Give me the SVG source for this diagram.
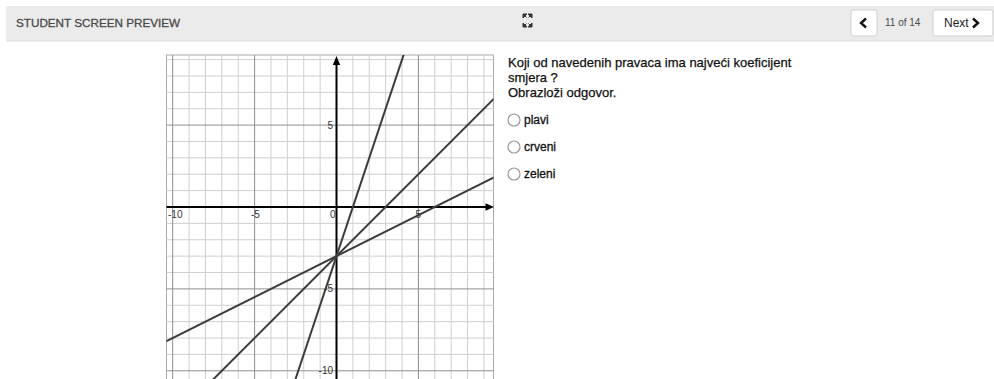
<svg xmlns="http://www.w3.org/2000/svg" width="994" height="379" viewBox="0 0 994 379">
<style>
.hdr{font-family:"Liberation Sans",Arial,sans-serif;fill:#4a4a4a}
.q{font-family:"Liberation Sans",Arial,sans-serif;font-size:13px;fill:#111;stroke:#111;stroke-width:0.25}
.opt{font-family:"Liberation Sans",Arial,sans-serif;font-size:12px;fill:#111;stroke:#111;stroke-width:0.3}
.lbl{font-family:"Liberation Sans",Arial,sans-serif;font-size:10px;fill:#333}
.btn{fill:#fff;stroke:#cfcfcf;stroke-width:1}
.radio{fill:#fff;stroke:#999;stroke-width:1.2}
.minor{stroke:#cfcfcf;stroke-width:1;fill:none}
.major{stroke:#8f8f8f;stroke-width:1;fill:none}
.gline{stroke:#3c3c3c;stroke-width:2;fill:none}
</style>
<defs>
<clipPath id="gclip"><rect x="166.5" y="55" width="327" height="330"/></clipPath>
</defs>
<rect width="994" height="379" fill="#fff"/>
<g id="header">
<rect x="6" y="6" width="988" height="35" fill="#ebebeb"/>
<line x1="6" y1="41" x2="994" y2="41" stroke="#dcdcdc"/>
<text class="hdr" x="16" y="27" font-size="11.7" stroke="#4a4a4a" stroke-width="0.3">STUDENT SCREEN PREVIEW</text>
<g id="expand" fill="#333" stroke="#333" stroke-width="1">
<path d="M523 14 L527 14 L523 18 Z"/><path d="M523.5 14.5 L526.5 17.5"/>
<path d="M532 14 L528 14 L532 18 Z"/><path d="M531.5 14.5 L528.5 17.5"/>
<path d="M523 27 L527 27 L523 23 Z"/><path d="M523.5 26.5 L526.5 23.5"/>
<path d="M532 27 L528 27 L532 23 Z"/><path d="M531.5 26.5 L528.5 23.5"/>
</g>
<g id="prev">
<rect class="btn" x="851" y="10" width="26" height="26" rx="2"/>
<polyline points="866,18.5 861,23 866,27.5" fill="none" stroke="#111" stroke-width="2.4"/>
</g>
<text class="hdr" x="885" y="26" font-size="10">11 of 14</text>
<g id="next">
<rect class="btn" x="933" y="10" width="60" height="26" rx="2"/>
<text class="hdr" x="944" y="27" font-size="12" style="fill:#222">Next</text>
<polyline points="973,18.5 978,23 973,27.5" fill="none" stroke="#111" stroke-width="2.4"/>
</g>
</g>
<g id="graph">
<rect x="166.5" y="55" width="327" height="330" fill="#fff" stroke="#aaa"/>
<path class="minor" d="M189.08 55V385M205.46 55V385M221.84 55V385M238.22 55V385M270.98 55V385M287.36 55V385M303.74 55V385M320.12 55V385M352.88 55V385M369.26 55V385M385.64 55V385M402.02 55V385M434.78 55V385M451.16 55V385M467.54 55V385M483.92 55V385M166.5 59.58H493.5M166.5 75.96H493.5M166.5 92.34H493.5M166.5 108.72H493.5M166.5 141.48H493.5M166.5 157.86H493.5M166.5 174.24H493.5M166.5 190.62H493.5M166.5 223.38H493.5M166.5 239.76H493.5M166.5 256.14H493.5M166.5 272.52H493.5M166.5 305.28H493.5M166.5 321.66H493.5M166.5 338.04H493.5M166.5 354.42H493.5"/>
<path class="major" d="M172.7 55V385M254.6 55V385M418.4 55V385M166.5 125.1H493.5M166.5 288.9H493.5M166.5 370.8H493.5"/>
<g id="axes">
<line x1="166.5" y1="207" x2="488" y2="207" stroke="#000" stroke-width="2"/>
<polygon points="494,207 485.5,203.3 485.5,210.7" fill="#000"/>
<line x1="336.5" y1="385" x2="336.5" y2="63" stroke="#000" stroke-width="2"/>
<polygon points="336.5,56 332.8,65 340.2,65" fill="#000"/>
</g>
<g id="lines" clip-path="url(#gclip)">
<line class="gline" x1="292.8" y1="387.2" x2="407.5" y2="43.2"/>
<line class="gline" x1="156.3" y1="436.3" x2="500.3" y2="92.3"/>
<line class="gline" x1="156.3" y1="346.2" x2="500.3" y2="174.2"/>
</g>
<g id="labels">
<text class="lbl" x="168" y="218">-10</text>
<text class="lbl" x="251" y="218">-5</text>
<text class="lbl" x="330" y="218">0</text>
<text class="lbl" x="415.5" y="218">5</text>
<text class="lbl" x="333" y="129" text-anchor="end">5</text>
<text class="lbl" x="333" y="292" text-anchor="end">-5</text>
<text class="lbl" x="333" y="374" text-anchor="end">-10</text>
</g>
</g>
<g id="question">
<text class="q" x="508" y="67">Koji od navedenih pravaca ima najveći koeficijent</text>
<text class="q" x="508" y="82">smjera ?</text>
<text class="q" x="508" y="97">Obrazloži odgovor.</text>
</g>
<g id="opt-plavi"><circle class="radio" cx="514" cy="120" r="6"/><text class="opt" x="524" y="124">plavi</text></g>
<g id="opt-crveni"><circle class="radio" cx="514" cy="147" r="6"/><text class="opt" x="524" y="151">crveni</text></g>
<g id="opt-zeleni"><circle class="radio" cx="514" cy="174" r="6"/><text class="opt" x="524" y="178">zeleni</text></g>
</svg>
